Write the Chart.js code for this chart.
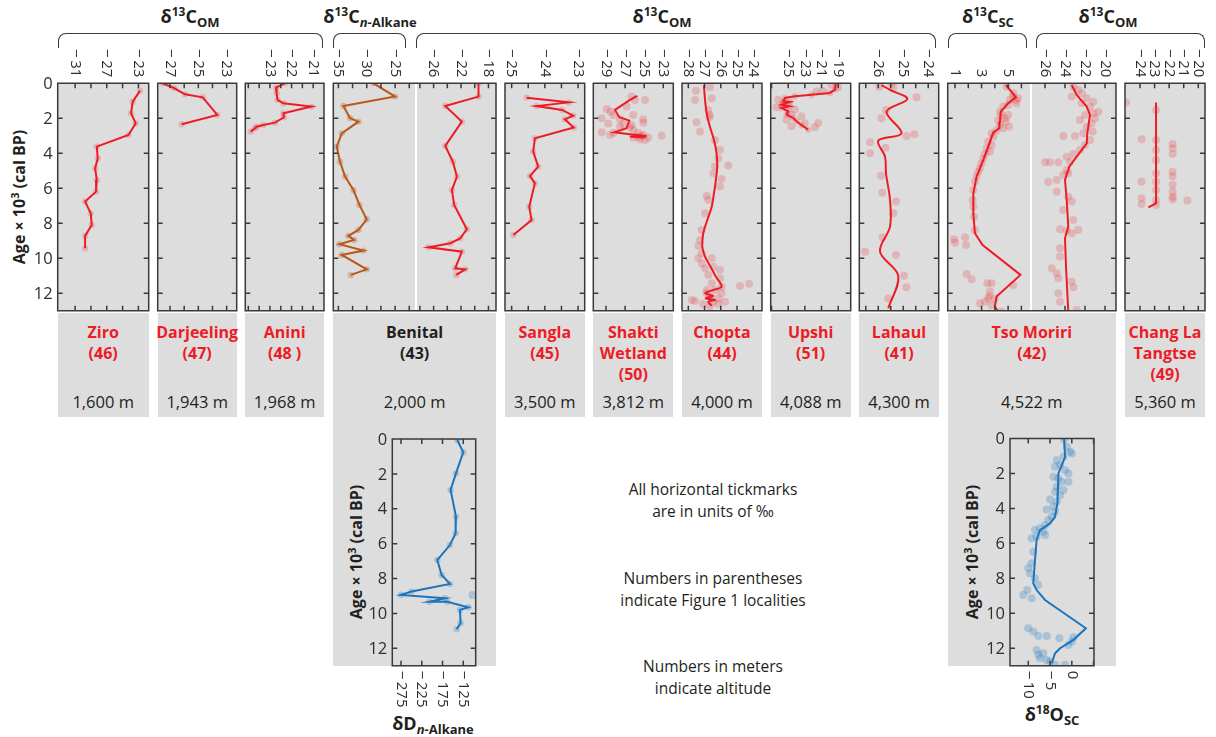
<!DOCTYPE html>
<html>
<head>
<meta charset="utf-8">
<script src="https://cdn.jsdelivr.net/npm/chart.js@4.4.0/dist/chart.umd.min.js"></script>
<style>
body { margin: 0; background: #fff; }
#page { position: relative; width: 1216px; height: 737px; overflow: hidden; font-family: 'Open Sans', sans-serif; color: #231f20; }
#page canvas { position: absolute; left: 0; top: 0; }
.gray { position: absolute; background: #dddddd; }
.white { position: absolute; background: #fff; }
.brace { position: absolute; top: 33px; height: 15px; border: 1.5px solid #3a3a3a; border-bottom: none; border-radius: 8px 8px 0 0; box-sizing: border-box; }
.head { position: absolute; width: 240px; text-align: center; font-weight: 700; font-size: 18px; line-height: 24px; white-space: nowrap; }
.head sup { font-size: 12px; vertical-align: baseline; position: relative; top: -7px; }
.head sub { font-size: 13px; vertical-align: baseline; position: relative; top: 4px; }
.site { position: absolute; top: 322px; width: 140px; text-align: center; font-weight: 700; font-size: 16px; line-height: 21px; color: #ed1c24; white-space: nowrap; }
.alt { position: absolute; top: 391px; width: 140px; text-align: center; font-size: 16.5px; line-height: 22px; white-space: nowrap; }
.note { position: absolute; left: 563px; width: 300px; text-align: center; font-size: 15.5px; line-height: 21.5px; }
.ylab { position: absolute; font-weight: 700; font-size: 16px; white-space: nowrap; transform: translate(-50%, -50%) rotate(-90deg); }
.ylab sup { font-size: 11px; vertical-align: baseline; position: relative; top: -6px; }
</style>
</head>
<body>
<div id="page"></div>
<script>
// site labels
const siteNames = ['Ziro', 'Darjeeling', 'Anini', 'Benital', 'Sangla', 'Shakti<br>Wetland', 'Chopta', 'Upshi', 'Lahaul', 'Tso Moriri', 'Chang La<br>Tangtse'];
const siteNums = ['(46)', '(47)', '(48 )', '(43)', '(45)', '(50)', '(44)', '(51)', '(41)', '(42)', '(49)'];
const altitudes = ['1,600 m', '1,943 m', '1,968 m', '2,000 m', '3,500 m', '3,812 m', '4,000 m', '4,088 m', '4,300 m', '4,522 m', '5,360 m'];
const ageTicks = [0, 2, 4, 6, 8, 10, 12];

// series: [value, age x 10^3]
const ziroLine = [[-22.79,0.42],[-23.72,1.05],[-23.93,1.71],[-23.34,2.29],[-24.26,2.95],[-28.26,3.62],[-28.14,4.29],[-28.47,4.86],[-28.26,5.52],[-28.35,6.19],[-29.74,6.76],[-29.02,7.43],[-28.9,8.1],[-29.74,8.72],[-29.74,9.43]];
const darjLine = [[-27.54,0.0],[-26.72,0.27],[-25.94,0.63],[-24.69,0.8],[-23.66,1.81],[-26.18,2.34]];
const aniniLine = [[-22.31,0],[-22.72,0.25],[-22.69,0.57],[-22.65,0.95],[-22.38,1.14],[-21.08,1.33],[-22.38,1.71],[-22.35,1.94],[-22.77,2.25],[-23.31,2.38],[-23.62,2.48],[-23.69,2.57],[-23.89,2.76]];
const benAlkLine = [[-28.82,0],[-25.0,0.76],[-34.12,1.3],[-32.94,2.0],[-31.47,2.19],[-34.41,2.86],[-35.29,3.62],[-34.71,4.48],[-33.82,5.33],[-32.35,6.1],[-31.29,6.95],[-30.0,7.77],[-31.47,8.38],[-33.24,8.72],[-32.24,8.95],[-34.82,9.2],[-30.59,9.56],[-34.41,9.81],[-30.0,10.63],[-32.82,10.95]];
const benOmLine = [[-19.45,0],[-19.45,0.76],[-24.3,1.3],[-21.88,2.19],[-24.3,3.58],[-23.19,4.48],[-22.6,5.33],[-23.33,6.1],[-23.0,6.95],[-21.15,8.34],[-22.12,8.86],[-23.58,9.14],[-26.73,9.37],[-21.88,9.62],[-22.85,10.57],[-21.4,10.63],[-22.7,10.95]];
const sanglaLine = [[-24.55,0.82],[-23.28,1.09],[-24.25,1.3],[-23.48,1.52],[-23.15,1.85],[-23.4,2.06],[-23.13,2.53],[-24.3,3.14],[-24.35,3.9],[-24.2,4.76],[-24.45,5.3],[-24.3,5.71],[-24.47,7.05],[-24.4,7.81],[-24.95,8.67]];
const shaktiLine = [[-25.72,0.72],[-26.49,0.95],[-28.06,1.52],[-27.61,1.94],[-26.56,2.13],[-26.84,2.57],[-28.13,2.8],[-26.49,2.91],[-24.75,3.01],[-26.49,3.05],[-24.92,3.09]];
const shaktiDots = [[-26.32,0.76],[-24.92,0.95],[-28.93,1.47],[-28.51,1.62],[-29.45,2.0],[-28.23,1.81],[-26.14,1.81],[-25.1,2.06],[-25.1,2.25],[-26.32,2.38],[-27.19,2.32],[-27.54,2.48],[-29.45,2.8],[-28.23,2.82],[-28.58,2.95],[-26.14,2.67],[-25.62,2.82],[-24.92,3.24],[-23.18,2.99],[-25.45,3.2],[-26.14,3.09],[-24.57,3.09],[-26.49,2.51],[-28.76,2.29],[-27.54,2.06],[-26.84,1.33],[-25.97,0.95],[-25.27,3.01],[-25.62,3.05],[-25.1,2.95]];
const choptaLine = [[-27.04,0.1],[-26.97,0.95],[-26.87,1.71],[-26.67,2.48],[-26.42,3.24],[-26.26,4.0],[-26.22,4.76],[-26.3,5.52],[-26.42,6.29],[-26.56,7.05],[-26.83,7.81],[-27.08,8.57],[-27.14,9.33],[-26.97,9.9],[-26.63,10.48],[-26.3,11.05],[-25.95,11.62],[-26.46,11.81],[-26.97,12.0],[-26.46,12.15],[-26.93,12.29],[-26.36,12.38],[-26.77,12.48],[-26.56,12.72]];
const choptaDots = [[-26.67,0.23],[-26.56,0.86],[-27.53,0.42],[-27.59,0.95],[-26.77,1.52],[-26.67,1.81],[-26.71,1.94],[-27.49,2.23],[-27.28,2.76],[-26.36,3.24],[-26.05,3.81],[-26.15,4.29],[-25.54,4.7],[-26.36,4.76],[-26.46,5.14],[-25.95,5.47],[-26.05,5.9],[-26.87,6.44],[-26.77,6.67],[-26.97,7.43],[-27.18,8.38],[-27.28,8.95],[-27.38,9.28],[-27.18,9.71],[-27.38,10.0],[-26.56,10.0],[-27.18,10.29],[-26.46,10.48],[-26.97,10.57],[-26.05,10.67],[-26.77,10.95],[-26.05,11.14],[-26.56,11.43],[-24.82,11.58],[-24.25,11.45],[-26.87,11.81],[-26.36,11.81],[-25.95,12.0],[-26.87,12.0],[-26.67,12.19],[-26.15,12.29],[-27.79,12.38],[-27.59,12.44],[-25.74,12.48],[-26.46,12.48],[-27.08,12.61],[-26.15,12.61],[-26.67,12.76],[-25.95,11.62]];
const upshiLine = [[-19.31,0.04],[-19.39,0.36],[-20.0,0.55],[-22.19,0.65],[-24.2,0.74],[-25.4,0.84],[-25.6,1.03],[-24.8,1.07],[-25.79,1.22],[-24.8,1.31],[-25.79,1.41],[-25.0,1.6],[-25.19,1.79],[-24.4,1.98],[-24.0,2.17],[-23.39,2.4],[-22.6,2.65]];
const upshiDots = [[-19.0,0.23],[-19.8,0.08],[-21.6,0.46],[-20.8,0.46],[-26.2,0.94],[-26.4,1.37],[-24.6,1.79],[-25.2,2.08],[-23.4,1.89],[-21.4,2.27],[-21.8,2.51],[-24.6,2.46],[-25.5,1.15],[-24.2,1.5],[-23.0,2.3]];
const lahaulLine = [[-25.87,0.1],[-25.53,0.38],[-24.84,0.9],[-25.67,1.62],[-25.07,2.86],[-26.0,3.28],[-25.73,4.19],[-25.69,5.14],[-25.53,6.67],[-25.53,8.19],[-25.93,9.62],[-25.2,11.0],[-25.6,12.86]];
const lahaulDots = [[-25.4,0.23],[-24.47,0.8],[-25.69,1.52],[-25.87,2.0],[-24.87,3.01],[-24.56,2.91],[-26.33,3.37],[-26.33,4.0],[-25.71,3.68],[-25.89,5.28],[-25.29,6.76],[-25.4,7.43],[-25.84,6.25],[-25.83,8.8],[-26.53,9.62],[-25.29,9.81],[-24.97,11.0],[-24.87,11.66],[-25.6,12.29],[-25.47,0],[-25.96,0.19]];
const tsoScLine = [[4.83,0.1],[5.25,0.48],[5.58,0.8],[5.0,1.14],[4.45,1.62],[4.38,2.19],[4.33,2.57],[3.88,2.82],[3.5,3.62],[3.13,4.38],[2.63,5.33],[2.38,6.29],[2.38,7.43],[2.5,8.57],[3.08,9.24],[5.93,10.95],[4.13,12.19],[4.0,12.76],[4.33,13.14]];
const tsoScDots = [[4.88,0.19],[5.38,0.57],[5.75,0.86],[5.13,0.95],[5.63,1.14],[4.63,1.33],[4.38,1.62],[5.0,1.81],[4.75,2.0],[4.25,2.1],[5.08,2.48],[4.63,2.57],[4.13,2.7],[3.75,2.86],[3.88,3.05],[3.5,3.33],[3.75,3.52],[3.38,3.71],[3.63,3.9],[3.25,4.04],[3.13,4.29],[3.0,4.57],[2.88,4.86],[2.75,5.05],[2.63,5.33],[2.5,5.62],[2.38,6.1],[2.33,6.67],[2.38,7.05],[2.43,7.62],[2.5,8.38],[0.93,8.91],[1.75,8.8],[1.83,9.24],[1.0,9.1],[1.88,10.9],[2.25,11.2],[3.43,11.43],[3.75,11.43],[5.38,11.52],[3.63,11.9],[3.5,12.29],[3.25,12.48],[2.88,12.57],[3.75,12.67],[4.5,13.05],[4.25,13.14],[4.0,12.29],[3.58,12.15],[5.38,0.76],[5.58,0.95],[5.0,1.24],[4.5,1.81],[4.83,2.19],[4.38,2.38]];
const tsoOmLine = [[-23.33,0.1],[-22.83,0.67],[-21.83,1.33],[-21.5,1.81],[-21.77,2.86],[-21.83,3.43],[-22.83,4.19],[-23.57,4.76],[-24.0,5.52],[-23.83,6.67],[-23.67,8.19],[-24.0,8.86],[-23.9,10.48],[-23.67,13.05]];
const tsoOmDots = [[-23.17,0.19],[-22.67,0.38],[-22.33,0.57],[-23.33,0.76],[-21.83,0.86],[-21.17,1.05],[-22.33,1.14],[-21.5,1.33],[-20.67,1.62],[-21.17,1.71],[-22.0,1.81],[-21.0,2.0],[-22.5,2.1],[-21.33,2.29],[-21.83,2.48],[-21.23,2.76],[-22.17,2.86],[-23.0,3.01],[-24.17,3.01],[-21.5,3.24],[-22.0,3.52],[-22.5,3.81],[-23.17,4.04],[-23.83,4.19],[-24.67,4.51],[-25.5,4.51],[-26.0,4.51],[-23.5,4.48],[-23.83,4.95],[-24.17,5.24],[-23.67,5.14],[-24.83,5.52],[-25.67,5.62],[-24.83,6.19],[-23.67,6.48],[-23.33,6.76],[-24.17,7.24],[-23.17,7.81],[-24.5,8.34],[-23.83,8.42],[-22.67,8.38],[-23.33,8.57],[-24.5,9.43],[-24.5,9.9],[-25.33,10.57],[-24.83,10.86],[-24.67,11.14],[-23.33,11.33],[-23.17,11.66],[-24.67,12.0],[-24.5,12.48],[-22.83,12.95]];
const changLine = [[-22.9,1.1],[-22.9,6.86],[-23.43,7.09]];
const changDots = [[-24.96,1.1],[-23.89,3.2],[-23.89,5.62],[-23.89,6.57],[-23.89,6.9],[-21.76,3.47],[-21.76,3.71],[-21.76,4.04],[-21.76,5.05],[-21.76,5.33],[-21.76,5.81],[-21.76,6.19],[-21.76,6.48],[-21.76,6.63],[-20.75,6.7],[-22.9,3.24],[-22.9,3.81],[-22.9,4.38],[-22.9,5.14],[-22.9,5.62],[-22.9,6.1],[-22.9,6.67],[-22.9,6.95],[-22.9,1.52]];
const ddLine = [[-139.4,0.06],[-125,0.76],[-142.6,1.97],[-155.5,2.92],[-142.6,4.45],[-143.4,5.41],[-157.1,6.08],[-187.6,6.94],[-177.1,7.8],[-157.1,8.31],[-249.3,8.75],[-275,8.94],[-169.1,9.13],[-206.8,9.33],[-163.5,9.33],[-113,9.65],[-133,9.8],[-131.4,10.57],[-141,10.91]];
const ddDots = [[-102.5,8.94]];
const d18Line = [[-1.77,0],[-1.54,1.05],[-3.08,2.0],[-3.3,3.71],[-3.85,4.48],[-5.0,4.86],[-7.31,5.24],[-8.08,5.81],[-8.46,6.95],[-8.85,8.29],[-8.08,8.67],[-6.15,9.24],[3.23,10.86],[0.38,11.52],[-2.69,12.0],[-3.85,12.29],[-4.62,12.86]];
const d18Dots = [[-1.77,0.06],[-1.15,0.48],[-0.38,0.76],[0,0.86],[-1.92,1.05],[-3.46,1.24],[-2.69,1.52],[-3.85,1.62],[-1.54,1.81],[-0.77,2.0],[-3.08,2.29],[-4.23,2.19],[-2.31,2.48],[-0.77,2.48],[-3.46,2.76],[-1.92,2.95],[-3.85,3.05],[-2.69,3.24],[-5.0,3.49],[-3.46,3.62],[-4.23,3.87],[-5.77,4.06],[-3.85,4.19],[-4.62,4.48],[-5.38,4.67],[-6.15,4.95],[-7.31,5.14],[-8.46,5.24],[-6.54,5.33],[-8.08,5.62],[-6.15,5.52],[-9.23,5.71],[-8.85,6.48],[-9.23,7.14],[-10.0,7.43],[-9.62,7.71],[-8.46,8.0],[-7.69,8.38],[-10.23,8.67],[-11.15,8.95],[-9.23,9.14],[-10.0,10.86],[-8.85,11.05],[-7.69,11.3],[-5.77,11.3],[-2.85,11.43],[0.38,11.37],[0,11.62],[-0.77,11.81],[-8.08,12.1],[-7.69,12.38],[-6.54,12.29],[-5.77,12.67],[-3.85,12.95],[-1.54,12.95],[-5.0,12.76],[-7.31,12.57]];

// tick labels per panel
const ziroTicks = [-31, -27, -23];
const darjTicks = [-27, -25, -23];
const aniniTicks = [-23, -22, -21];
const benAlkTicks = [-35, -30, -25];
const benOmTicks = [-26, -22, -18];
const sanglaTicks = [-25, -24, -23];
const shaktiTicks = [-29, -27, -25, -23];
const choptaTicks = [-28, -27, -26, -25, -24];
const upshiTicks = [-25, -23, -21, -19];
const lahaulTicks = [-26, -25, -24];
const tsoScTicks = [1, 3, 5];
const tsoOmTicks = [-26, -24, -22, -20];
const changTicks = [-24, -23, -22, -21, -20];
const ddTicks = [-275, -225, -175, -125];
const d18Ticks = [-10, -5, 0];

const RED = '#ed1c24', RED_DOT = 'rgba(237,28,36,0.2)';
const BROWN = '#b8591c', BROWN_DOT = 'rgba(184,89,28,0.3)';
const BLUE = '#1c75bc', BLUE_DOT = 'rgba(28,117,188,0.26)';

const page = document.getElementById('page');

function addDiv(cls, style, html) {
    const d = document.createElement('div');
    d.className = cls;
    Object.assign(d.style, style);
    if (html) d.innerHTML = html;
    page.appendChild(d);
    return d;
}

// columns (plot box x-ranges)
const colX = [[57.7,148.7],[157.7,236.7],[245.3,324],[333.3,496],[505,584.7],[593.3,673.3],[682,762],[770.7,850.7],[859.3,938.7],[947.7,1116],[1125,1205]];
colX.forEach((c, i) => {
    const w = c[1] - c[0];
    addDiv('gray', { left: c[0] + 'px', top: '83.3px', width: w + 'px', height: '227.5px' });
    const bottom = (i === 3 || i === 9) ? 665.7 : 416.7;
    addDiv('gray', { left: c[0] + 'px', top: '312.5px', width: w + 'px', height: (bottom - 312.5) + 'px' });
    const cx = (c[0] + c[1]) / 2;
    const site = addDiv('site', { left: (cx - 70) + 'px' }, siteNames[i] + '<br>' + siteNums[i]);
    if (i === 3) site.style.color = '#231f20';
    addDiv('alt', { left: (cx - 70) + 'px' }, altitudes[i]);
});
addDiv('white', { left: '415.3px', top: '83px', width: '1.6px', height: '228px' });
addDiv('white', { left: '1030.2px', top: '83px', width: '1.6px', height: '228px' });

// headers and braces
[[57.7,323.3],[333.3,406],[415.7,936],[947.7,1027],[1036,1205]].forEach(b => {
    addDiv('brace', { left: b[0] + 'px', width: (b[1] - b[0]) + 'px' });
});
[[190,'δ<sup>13</sup>C<sub>OM</sub>'],[370,'δ<sup>13</sup>C<sub><i>n</i>-Alkane</sub>'],[662,'δ<sup>13</sup>C<sub>OM</sub>'],[988,'δ<sup>13</sup>C<sub>SC</sub>'],[1108,'δ<sup>13</sup>C<sub>OM</sub>']].forEach(h => {
    addDiv('head', { left: (h[0] - 120) + 'px', top: '4px' }, h[1]);
});
addDiv('head', { left: (433 - 120) + 'px', top: '711px' }, 'δD<sub><i>n</i>-Alkane</sub>');
addDiv('head', { left: (1052 - 120) + 'px', top: '702px' }, 'δ<sup>18</sup>O<sub>SC</sub>');

// y axis titles
[[19,197],[356,552],[972,552]].forEach(p => {
    addDiv('ylab', { left: p[0] + 'px', top: p[1] + 'px' }, 'Age × 10<sup>3</sup> (cal BP)');
});

// notes
addDiv('note', { top: '479px' }, 'All horizontal tickmarks<br>are in units of ‰');
addDiv('note', { top: '568px' }, 'Numbers in parentheses<br>indicate Figure 1 localities');
addDiv('note', { top: '656px' }, 'Numbers in meters<br>indicate altitude');

function fmt(v) {
    return v < 0 ? '\u2212\u2009' + Math.abs(v) : String(v);
}

// draws the box, inward tickmarks and rotated tick labels
const framePlugin = {
    id: 'frame',
    afterDatasetsDraw(chart, args, o) {
        const ctx = chart.ctx;
        const a = chart.chartArea;
        const xs = chart.scales.x, ys = chart.scales.y;
        const l = a.left, r = a.right, t = a.top, b = a.bottom;
        ctx.save();
        ctx.strokeStyle = '#3a3a3a';
        ctx.lineWidth = 1.5;
        ctx.beginPath();
        const rr = o.noRight ? r + 1.5 : r;
        ctx.moveTo(l, t); ctx.lineTo(rr, t);
        ctx.moveTo(l, b); ctx.lineTo(rr, b);
        if (!o.noLeft) { ctx.moveTo(l, t - 0.75); ctx.lineTo(l, b + 0.75); }
        if (!o.noRight) { ctx.moveTo(r, t - 0.75); ctx.lineTo(r, b + 0.75); }
        o.minor.forEach(v => {
            const px = xs.getPixelForValue(v);
            ctx.moveTo(px, t); ctx.lineTo(px, t + 5);
            ctx.moveTo(px, b); ctx.lineTo(px, b - 5);
        });
        ageTicks.forEach(v => {
            const py = ys.getPixelForValue(v);
            if (!o.noLeft) { ctx.moveTo(l, py); ctx.lineTo(l + 5, py); }
            if (!o.noRight) { ctx.moveTo(r, py); ctx.lineTo(r - 5, py); }
        });
        ctx.stroke();

        ctx.fillStyle = '#2e2e2e';
        ctx.font = '15px "Open Sans"';
        ctx.textBaseline = 'middle';
        o.labels.forEach(v => {
            const px = xs.getPixelForValue(v);
            ctx.save();
            if (o.side === 'bottom') {
                ctx.translate(px, b + 5);
                ctx.rotate(Math.PI / 2);
                ctx.textAlign = 'left';
            } else {
                ctx.translate(px, t - 6);
                ctx.rotate(Math.PI / 2);
                ctx.textAlign = 'right';
            }
            ctx.fillText(fmt(v), 0, 0);
            ctx.restore();
        });
        if (o.yLabels) {
            ctx.font = '16.5px "Open Sans"';
            ctx.textAlign = 'right';
            ageTicks.forEach(v => ctx.fillText(String(v), l - 5, ys.getPixelForValue(v) + 1));
        }
        ctx.restore();
    }
};

function toXY(arr) {
    return arr.map(p => ({ x: p[0], y: p[1] }));
}

function makePanel(s) {
    const c = document.createElement('canvas');
    c.width = 1216;
    c.height = 737;
    page.appendChild(c);
    const datasets = [{
        data: toXY(s.line),
        showLine: true,
        borderColor: s.color,
        borderWidth: 2,
        tension: s.smooth ? 0.35 : 0,
        pointRadius: s.marks === false ? 0 : 3.2,
        pointBackgroundColor: s.dot,
        pointBorderWidth: 0
    }];
    if (s.dots) {
        datasets.push({
            data: toXY(s.dots),
            showLine: false,
            pointRadius: 4,
            pointBackgroundColor: s.dot,
            pointBorderWidth: 0
        });
    }
    new Chart(c, {
        type: 'scatter',
        data: { datasets: datasets },
        options: {
            responsive: false,
            animation: false,
            events: [],
            layout: { padding: { left: s.x0, right: 1216 - s.x1, top: s.y0, bottom: 737 - s.y1 } },
            scales: {
                x: { type: 'linear', min: s.min, max: s.max, display: false },
                y: { type: 'linear', min: 0, max: 13, reverse: true, display: false }
            },
            plugins: {
                legend: { display: false },
                tooltip: { enabled: false },
                frame: {
                    minor: s.minor || s.labels,
                    labels: s.labels,
                    side: s.side || 'top',
                    yLabels: !!s.yLabels,
                    noLeft: !!s.noLeft,
                    noRight: !!s.noRight
                }
            }
        },
        plugins: [framePlugin]
    });
}

const TOP = 83.3, BOT = 310.8;
makePanel({ line: ziroLine, color: RED, dot: RED_DOT, x0: 57.7, x1: 148.7, y0: TOP, y1: BOT, min: -33.2, max: -21.7, labels: ziroTicks, minor: [-31,-29,-27,-25,-23], yLabels: true });
makePanel({ line: darjLine, color: RED, dot: RED_DOT, x0: 157.7, x1: 236.7, y0: TOP, y1: BOT, min: -27.87, max: -22.29, labels: darjTicks, minor: [-27,-26,-25,-24,-23] });
makePanel({ line: aniniLine, color: RED, dot: RED_DOT, x0: 245.3, x1: 324, y0: TOP, y1: BOT, min: -24.14, max: -20.5, labels: aniniTicks, minor: [-24,-23.5,-23,-22.5,-22,-21.5,-21] });
makePanel({ line: benAlkLine, color: BROWN, dot: BROWN_DOT, x0: 333.3, x1: 415.5, y0: TOP, y1: BOT, min: -35.9, max: -21.4, labels: benAlkTicks, minor: [-35,-32.5,-30,-27.5,-25,-22.5], noRight: true });
makePanel({ line: benOmLine, color: RED, dot: RED_DOT, x0: 416.8, x1: 496, y0: TOP, y1: BOT, min: -28.45, max: -16.9, labels: benOmTicks, minor: [-28,-26,-24,-22,-20,-18], noLeft: true });
makePanel({ line: sanglaLine, color: RED, dot: RED_DOT, x0: 505, x1: 584.7, y0: TOP, y1: BOT, min: -25.2, max: -22.8, labels: sanglaTicks, minor: [-25,-24.5,-24,-23.5,-23] });
makePanel({ line: shaktiLine, dots: shaktiDots, color: RED, dot: RED_DOT, x0: 593.3, x1: 673.3, y0: TOP, y1: BOT, min: -30.33, max: -21.95, labels: shaktiTicks, marks: false });
makePanel({ line: choptaLine, dots: choptaDots, color: RED, dot: RED_DOT, x0: 682, x1: 762, y0: TOP, y1: BOT, min: -28.39, max: -23.46, labels: choptaTicks, marks: false, smooth: true });
makePanel({ line: upshiLine, dots: upshiDots, color: RED, dot: RED_DOT, x0: 770.7, x1: 850.7, y0: TOP, y1: BOT, min: -27.1, max: -17.5, labels: upshiTicks, minor: [-27,-25,-23,-21,-19] });
makePanel({ line: lahaulLine, dots: lahaulDots, color: RED, dot: RED_DOT, x0: 859.3, x1: 938.7, y0: TOP, y1: BOT, min: -26.76, max: -23.58, labels: lahaulTicks, minor: [-26.5,-26,-25.5,-25,-24.5,-24], marks: false, smooth: true });
makePanel({ line: tsoScLine, dots: tsoScDots, color: RED, dot: RED_DOT, x0: 947.7, x1: 1030.3, y0: TOP, y1: BOT, min: 0.45, max: 6.67, labels: tsoScTicks, minor: [1,2,3,4,5,6], marks: false, noRight: true });
makePanel({ line: tsoOmLine, dots: tsoOmDots, color: RED, dot: RED_DOT, x0: 1031.5, x1: 1116, y0: TOP, y1: BOT, min: -27.35, max: -18.9, labels: tsoOmTicks, marks: false, noLeft: true });
makePanel({ line: changLine, dots: changDots, color: RED, dot: RED_DOT, x0: 1125, x1: 1205, y0: TOP, y1: BOT, min: -25.03, max: -19.54, labels: changTicks, marks: false });
makePanel({ line: ddLine, dots: ddDots, color: BLUE, dot: BLUE_DOT, x0: 392.3, x1: 475.7, y0: 439, y1: 665.7, min: -296, max: -95, labels: ddTicks, minor: [-275,-225,-175,-125], side: 'bottom', yLabels: true });
makePanel({ line: d18Line, dots: d18Dots, color: BLUE, dot: BLUE_DOT, x0: 1010, x1: 1094, y0: 438.5, y1: 665.7, min: -14.2, max: 5.1, labels: d18Ticks, minor: [-10,-5,0,5], side: 'bottom', yLabels: true, marks: false });
</script>
</body>
</html>
